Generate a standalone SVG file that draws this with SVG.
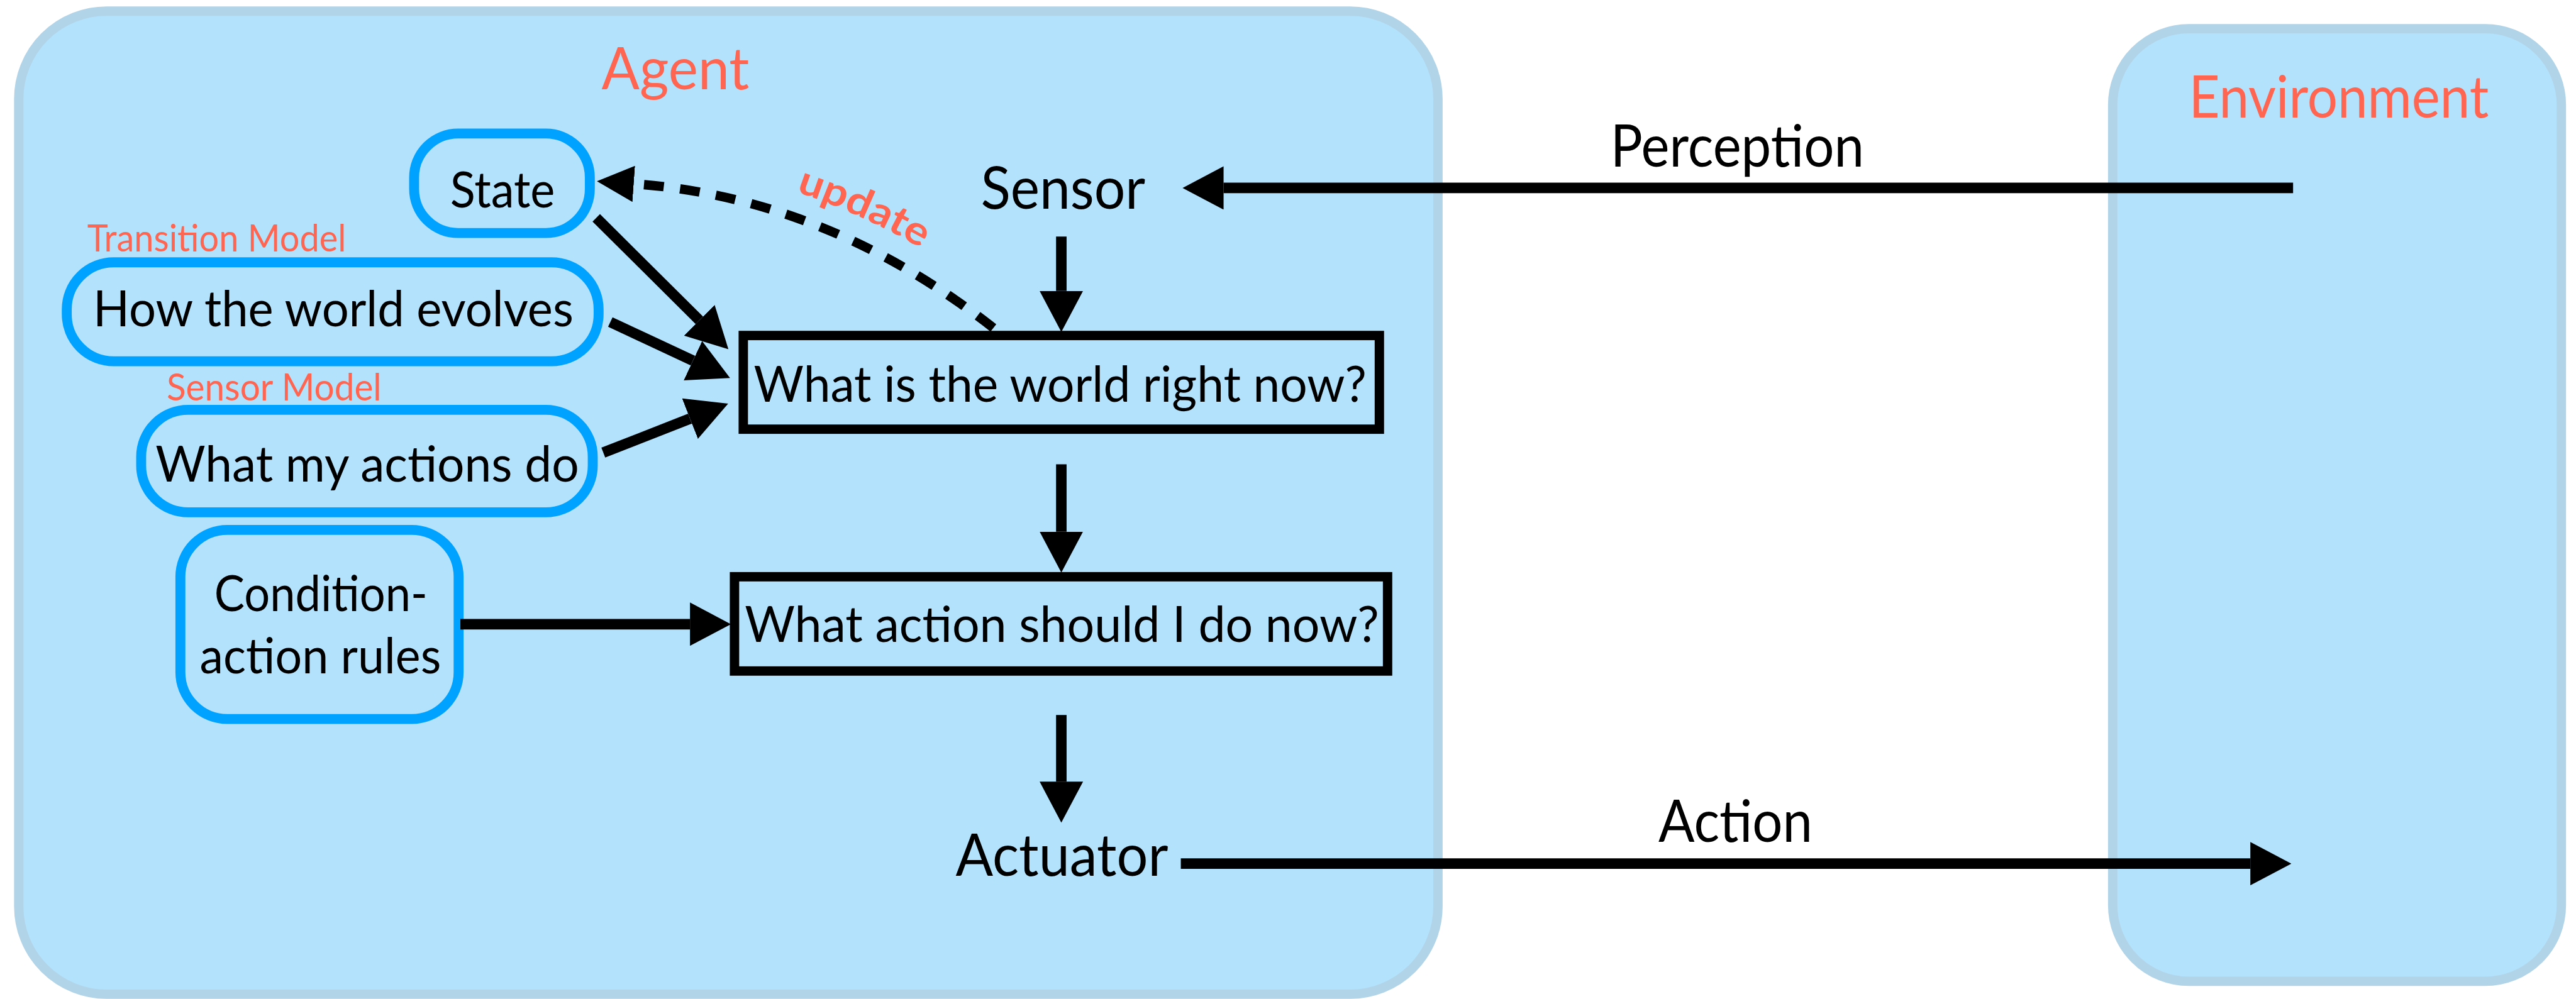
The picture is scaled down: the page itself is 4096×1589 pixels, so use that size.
<svg xmlns="http://www.w3.org/2000/svg" width="4096" height="1589" viewBox="0 0 4096 1589">
<defs>
<style>
.container{fill:#B3E2FD;stroke:#B2D4E8;stroke-width:16}
.node{fill:#B3E2FD;stroke:#00A2FF;stroke-width:17}
.box{fill:none;stroke:#000;stroke-width:16}
.t{font-family:Lato,'Liberation Sans',sans-serif;fill:#000;text-anchor:middle}
.big{font-size:100px}
.mid{font-size:85px}
.title{font-size:100px;fill:#FF6550}
.small{font-size:64px;fill:#FF6550}
.upd{font-family:Lato,'Liberation Sans',sans-serif;font-weight:bold;font-size:68px;fill:#FF6550}
.arrow{stroke:#000;stroke-width:18;fill:none}
.dash{stroke:#000;stroke-width:16;fill:none;stroke-dasharray:34 28}
</style>
<marker id="head" markerUnits="userSpaceOnUse" viewBox="0 0 70 74" refX="0" refY="37" markerWidth="70" markerHeight="74" orient="auto"><path d="M0,0 L70,37 L0,74 Z" fill="#000"/></marker>
<marker id="headDash" markerUnits="userSpaceOnUse" viewBox="0 0 63 62" refX="0" refY="31" markerWidth="63" markerHeight="62" orient="auto"><path d="M0,0 L63,31 L0,62 Z" fill="#000"/></marker>
<path id="updPath" d="M1088,274 Q1428,298 1722,524" fill="none"/>
</defs>
<g transform="scale(0.93133)">
<g id="agent">
<rect class="container" x="32" y="19" width="2423" height="1679" rx="150" ry="150"/>
<text class="t title" x="1153" y="152" textLength="252" lengthAdjust="spacingAndGlyphs">Agent</text>
</g>
<g id="environment">
<rect class="container" x="3607" y="49" width="766" height="1627" rx="130" ry="130"/>
<text class="t title" x="3993" y="201" textLength="512" lengthAdjust="spacingAndGlyphs">Environment</text>
</g>
<g id="state">
<rect class="node" x="707" y="228" width="300" height="170" rx="75" ry="75"/>
<text class="t mid" x="858" y="354" textLength="179" lengthAdjust="spacingAndGlyphs">State</text>
</g>
<g id="transition-model">
<text class="t small" x="370" y="430" textLength="442" lengthAdjust="spacingAndGlyphs">Transition Model</text>
<rect class="node" x="114" y="448" width="908" height="169" rx="80" ry="80"/>
<text class="t mid" x="569" y="557" textLength="820" lengthAdjust="spacingAndGlyphs">How the world evolves</text>
</g>
<g id="sensor-model">
<text class="t small" x="468" y="684" textLength="367" lengthAdjust="spacingAndGlyphs">Sensor Model</text>
<rect class="node" x="241" y="700" width="771" height="175" rx="80" ry="80"/>
<text class="t mid" x="627" y="823" textLength="723" lengthAdjust="spacingAndGlyphs">What my actions do</text>
</g>
<g id="rules">
<rect class="node" x="308" y="905" width="475" height="323" rx="80" ry="80"/>
<text class="t mid" x="548" y="1044" textLength="364" lengthAdjust="spacingAndGlyphs">Condition-</text>
<text class="t mid" x="547" y="1150" textLength="412" lengthAdjust="spacingAndGlyphs">action rules</text>
</g>
<g id="sensor">
<text class="t big" x="1815" y="357" textLength="281" lengthAdjust="spacingAndGlyphs">Sensor</text>
</g>
<g id="world-now">
<rect class="box" x="1269" y="573" width="1086" height="160"/>
<text class="t mid" x="1810" y="686" textLength="1046" lengthAdjust="spacingAndGlyphs">What is the world right now?</text>
</g>
<g id="action-now">
<rect class="box" x="1254" y="985" width="1115" height="161"/>
<text class="t mid" x="1813" y="1096" textLength="1083" lengthAdjust="spacingAndGlyphs">What action should I do now?</text>
</g>
<g id="actuator">
<text class="t big" x="1813" y="1496" textLength="363" lengthAdjust="spacingAndGlyphs">Actuator</text>
</g>
<g id="connectors">
<line class="arrow" x1="3915" y1="321" x2="2089" y2="321" marker-end="url(#head)"/>
<text class="t big" x="2966" y="285" textLength="433" lengthAdjust="spacingAndGlyphs">Perception</text>
<line class="arrow" x1="2016" y1="1475" x2="3842" y2="1475" marker-end="url(#head)"/>
<text class="t big" x="2963" y="1438" textLength="263" lengthAdjust="spacingAndGlyphs">Action</text>
<line class="arrow" x1="1812" y1="404" x2="1812" y2="497" marker-end="url(#head)"/>
<line class="arrow" x1="1812" y1="793" x2="1812" y2="908" marker-end="url(#head)"/>
<line class="arrow" x1="1812" y1="1221" x2="1812" y2="1335" marker-end="url(#head)"/>
<line class="arrow" x1="786" y1="1066" x2="1178" y2="1066" marker-end="url(#head)"/>
<line class="arrow" x1="1018" y1="372" x2="1194" y2="547" marker-end="url(#head)"/>
<line class="arrow" x1="1042" y1="550" x2="1183" y2="616" marker-end="url(#head)"/>
<line class="arrow" x1="1030" y1="773" x2="1178" y2="715" marker-end="url(#head)"/>
<path class="dash" d="M1696,560 Q1410,337 1082,314" marker-end="url(#headDash)"/>
<text class="upd" text-anchor="middle"><textPath href="#updPath" startOffset="57%" textLength="235" lengthAdjust="spacingAndGlyphs">update</textPath></text>
</g>
</g>
</svg>
